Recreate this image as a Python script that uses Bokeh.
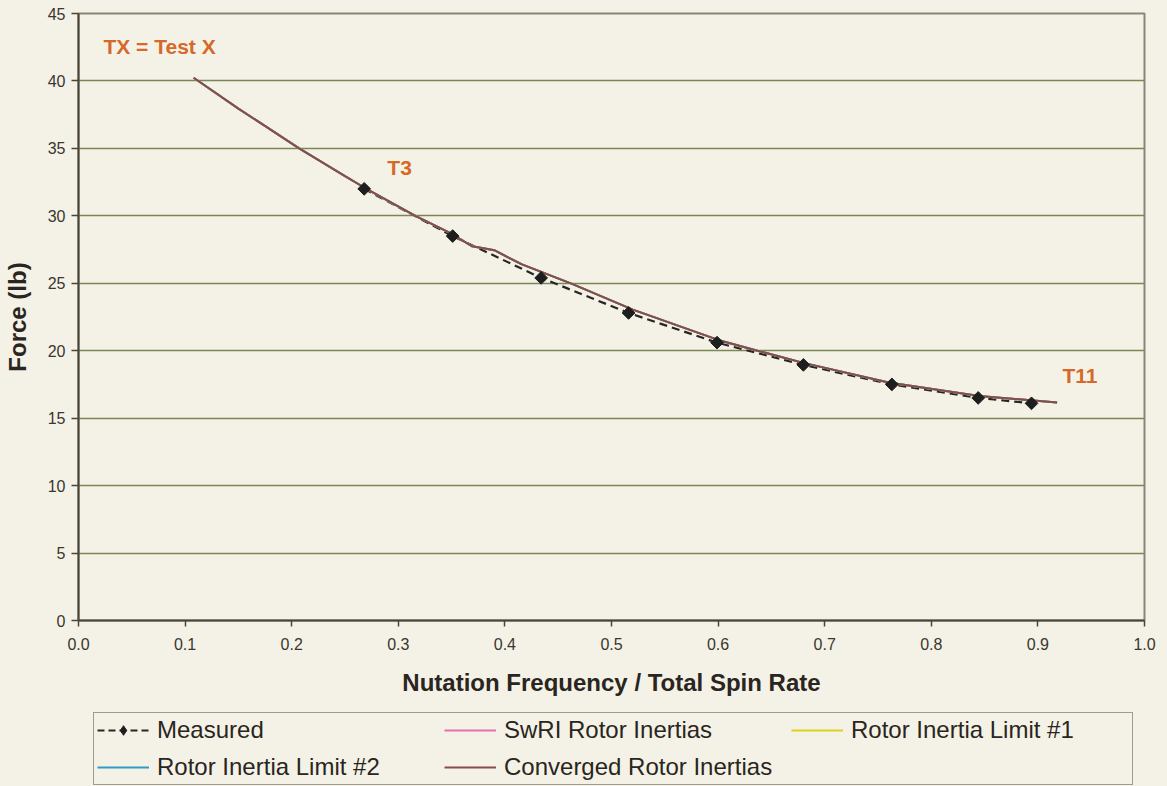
import math
from bokeh.plotting import figure
from bokeh.layouts import column
from bokeh.models import Legend, LegendItem, FixedTicker, PrintfTickFormatter, Range1d
from bokeh.core.properties import value
from bokeh.embed import file_html
from bokeh.resources import INLINE

# ---- data ----
measured_x = [0.268, 0.351, 0.434, 0.516, 0.599, 0.680, 0.763, 0.844, 0.894]
measured_y = [32.0, 28.5, 25.4, 22.8, 20.6, 18.95, 17.5, 16.5, 16.1]

model_x = [0.108, 0.150, 0.207, 0.250, 0.268, 0.316, 0.348, 0.369, 0.380, 0.390,
           0.416, 0.463, 0.520, 0.600, 0.637, 0.680, 0.760, 0.845, 0.918]
converged_y = [40.24, 37.95, 35.0, 32.95, 32.1, 30.0, 28.76, 27.75, 27.6, 27.45,
               26.4, 24.96, 23.05, 20.8, 20.0, 19.1, 17.65, 16.65, 16.17]
swri_y = list(converged_y)
limit1_y = list(converged_y)
limit2_y = list(converged_y)

x_ticks = [0.0, 0.1, 0.2, 0.3, 0.4, 0.5, 0.6, 0.7, 0.8, 0.9, 1.0]
y_ticks = [0, 5, 10, 15, 20, 25, 30, 35, 40, 45]
grid_lines = [5, 10, 15, 20, 25, 30, 35, 40]

labels = ["Measured", "SwRI Rotor Inertias", "Rotor Inertia Limit #1",
          "Rotor Inertia Limit #2", "Converged Rotor Inertias"]
notes = ["TX = Test X", "T3", "T11"]

# ---- styling ----
BG = "#f4f2e6"
FONT = "Liberation Sans"
ORANGE = "#d4692a"
C_MEAS = "#262626"
C_SWRI = "#e66fb4"
C_L1 = "#dcd21e"
C_L2 = "#2f9cc4"
C_CONV = "#8a4b4b"

p = figure(width=1167, height=705, output_backend="svg", toolbar_location=None,
           x_range=Range1d(0, 1.0), y_range=Range1d(0, 45),
           min_border_left=75, min_border_right=23, min_border_top=13,
           min_border_bottom=85)
p.background_fill_color = BG
p.border_fill_color = BG
p.outline_line_color = "#8a8676"
p.outline_line_width = 2

for ax in (p.xaxis[0], p.yaxis[0]):
    ax.axis_line_color = "#4a4538"
    ax.axis_line_width = 2
    ax.major_tick_line_color = "#4a4538"
    ax.major_tick_line_width = 1.5
    ax.minor_tick_line_color = None
    ax.major_tick_in = 0
    ax.major_label_text_font = FONT
    ax.major_label_text_font_size = "16px"
    ax.major_label_text_color = "#3a3630"
    ax.axis_label_text_font = FONT
    ax.axis_label_text_font_size = "24px"
    ax.axis_label_text_font_style = "bold"
    ax.axis_label_text_color = "#2a2520"

p.xaxis.ticker = FixedTicker(ticks=x_ticks)
p.xaxis.formatter = PrintfTickFormatter(format="%.1f")
p.xaxis.major_tick_out = 6
p.xaxis.major_label_standoff = 11
p.xaxis.axis_label = "Nutation Frequency / Total Spin Rate"
p.xaxis.axis_label_standoff = 16

p.yaxis.ticker = FixedTicker(ticks=y_ticks)
p.yaxis.major_tick_out = 7
p.yaxis.major_label_standoff = 6
p.yaxis.axis_label = "Force (lb)"
p.yaxis.axis_label_standoff = 14

p.xgrid.grid_line_color = None
p.ygrid.ticker = FixedTicker(ticks=grid_lines)
p.ygrid.grid_line_color = "#7a8656"
p.ygrid.grid_line_width = 1.3

# series
p.line(measured_x, measured_y, line_color=C_MEAS, line_width=2.2, line_dash="8 5")
p.line(model_x, swri_y, line_color=C_SWRI, line_width=2)
p.line(model_x, limit1_y, line_color=C_L1, line_width=2)
p.line(model_x, limit2_y, line_color=C_L2, line_width=2)
p.line(model_x, converged_y, line_color=C_CONV, line_width=2)
p.scatter(measured_x, measured_y, marker="square", size=9, angle=math.pi / 4,
          fill_color="#1e1e1e", line_color="#1e1e1e")

# annotations
for (tx, ty), t in zip([(0.0234, 42.54), (0.2897, 33.56), (0.923, 18.15)], notes):
    p.text(x=[tx], y=[ty], text=[t], text_font=value(FONT),
           text_font_size="21px", text_font_style="bold", text_color=ORANGE,
           text_baseline="middle", text_align="left")

# ---- legend strip (separate figure below the chart; its ranges keep the
# series out of view so that only the legend shows) ----
lf = figure(width=1167, height=81, output_backend="svg", toolbar_location=None,
            x_range=Range1d(0, 1), y_range=Range1d(0, 1),
            x_axis_type=None, y_axis_type=None,
            min_border_left=0, min_border_right=0, min_border_top=0,
            min_border_bottom=0)
lf.background_fill_color = BG
lf.border_fill_color = BG
lf.outline_line_color = None
lf.grid.grid_line_color = None

g_meas_l = lf.line(measured_x, measured_y, line_color=C_MEAS, line_width=2,
                   line_dash="7 4")
g_meas_p = lf.scatter(measured_x, measured_y, marker="diamond", size=13,
                      fill_color="#1e1e1e", line_color="#1e1e1e")
g_swri = lf.line(model_x, swri_y, line_color=C_SWRI, line_width=2)
g_l1 = lf.line(model_x, limit1_y, line_color=C_L1, line_width=2)
g_l2 = lf.line(model_x, limit2_y, line_color=C_L2, line_width=2)
g_conv = lf.line(model_x, converged_y, line_color=C_CONV, line_width=2)

# column-major fill with two rows -> row 1: Measured, SwRI, Limit #1; row 2: Limit #2, Converged
items = [
    LegendItem(label=labels[0], renderers=[g_meas_l, g_meas_p]),
    LegendItem(label=labels[3], renderers=[g_l2]),
    LegendItem(label=labels[1], renderers=[g_swri]),
    LegendItem(label=labels[4], renderers=[g_conv]),
    LegendItem(label=labels[2], renderers=[g_l1]),
]
legend = Legend(items=items, ncols=3, location=(15, 1),
                glyph_width=52, glyph_height=24, label_height=24,
                label_standoff=8, label_width=278, spacing=9, padding=3,
                label_text_font=FONT, label_text_font_size="24px",
                label_text_color="#2a2520",
                border_line_color="#4a4538", border_line_width=1.5,
                background_fill_color=BG, background_fill_alpha=0.0,
                click_policy="none")
lf.add_layout(legend, "center")

layout = column(p, lf, spacing=0, styles={"background-color": BG})
open("out.html", "w").write(file_html(layout, INLINE))
